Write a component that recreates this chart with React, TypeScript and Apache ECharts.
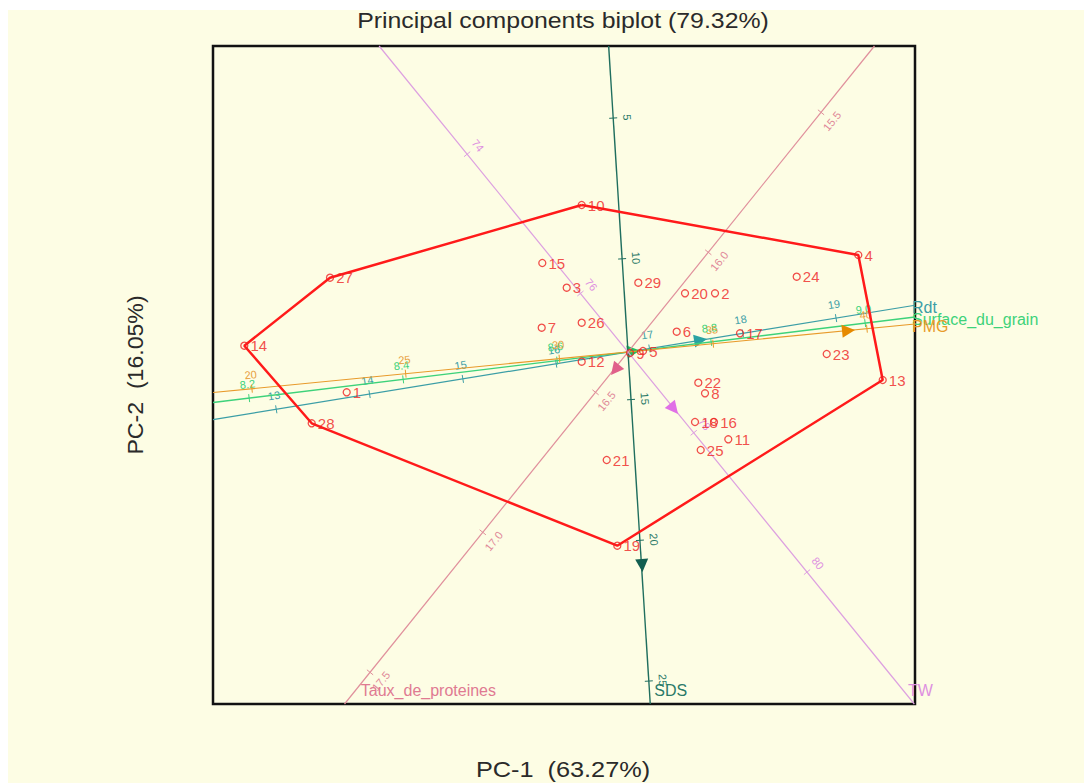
import React, { useEffect, useRef } from "react";
import * as echarts from "echarts";

// ---- genotype scores (PC-1, PC-2) ----
const genotypes = ["1","2","3","4","5","6","7","8","9","10","11","12","13","14","15","16","17","18","19","20","21","22","23","24","25","26","27","28","29"];
const pc1Scores = [-2.813, 0.87, -0.613, 2.303, 0.15, 0.487, -0.863, 0.77, 0.02, -0.463, 1.003, -0.463, 2.547, -3.837, -0.857, 0.86, 1.12, 0.67, -0.107, 0.57, -0.213, 0.703, 1.987, 1.687, 0.727, -0.463, -2.98, -3.163, 0.103];
const pc2Scores = [-0.403, 0.587, 0.643, 0.97, 0.01, 0.203, 0.243, -0.413, -0.01, 1.47, -0.873, -0.097, -0.28, 0.063, 0.89, -0.7, 0.187, -0.7, -1.937, 0.587, -1.08, -0.307, -0.02, 0.753, -0.98, 0.293, 0.743, -0.713, 0.693];
const hullGenotypes = ["10", "4", "13", "19", "28", "14", "27", "10"];

// ---- variables (biplot axes) ----
const variableNames = ["Rdt", "Surface_du_grain", "PMG", "SDS", "TW", "Taux_de_proteines"];
const variableTicks = [
  [13, 14, 15, 16, 17, 18, 19],
  [8.2, 8.4, 8.6, 8.8, 9.0],
  [20, 25, 30, 35, 40],
  [5, 10, 15, 20, 25],
  [74, 76, 78, 80],
  [15.5, 16.0, 16.5, 17.0, 17.5],
];
const variableDecimals = [0, 1, 0, 0, 0, 1];
// value of each variable at the biplot origin
const variableCentres = [16.77, 8.692, 32.23, 13.31, 76.84, 16.356];
// shift in (PC-1, PC-2) per unit of the variable
const variableSteps = [
  [0.933, 0.152],
  [7.7, 0.9375],
  [0.3075, 0.03],
  [0.0178, -0.2815],
  [0.5665, -0.6965],
  [-2.255, -2.8],
];
// vector ends (arrow tips) in (PC-1, PC-2)
const variableVectors = [
  [0.79, 0.13],
  [0.12, 0.015],
  [2.27, 0.22],
  [0.145, -2.2],
  [0.5, -0.62],
  [-0.17, -0.23],
];

const X_MIN = -4.15, X_MAX = 2.87, Y_MIN = -3.52, Y_MAX = 3.06;
const FONT = "'Liberation Sans', Arial, sans-serif";
const variableStyles = [
  { line: "#3b9ea6", tick: "#3b9ea6", arrow: "#2aa3a3", name: "#3b9ea6", width: 1.2 },
  { line: "#3dd27a", tick: "#3dd27a", arrow: "#22c060", name: "#3dd27a", width: 1.4 },
  { line: "#e89a2a", tick: "#e8a040", arrow: "#e68a00", name: "#e89a2a", width: 1.2 },
  { line: "#1f6e5e", tick: "#2a7a68", arrow: "#125e50", name: "#2a7a68", width: 1.4 },
  { line: "#dda0e0", tick: "#dd90e0", arrow: "#e070e6", name: "#dd90e0", width: 1.2 },
  { line: "#e0909c", tick: "#e08898", arrow: "#e0608a", name: "#e07a92", width: 1.2 },
];

export default function App() {
  const ref = useRef<HTMLDivElement>(null);
  useEffect(() => {
    document.documentElement.style.overflow = "hidden";
    const chart = echarts.init(ref.current!, null, { renderer: "svg" });

    const points = genotypes.map((g, i) => [pc1Scores[i], pc2Scores[i], g]);
    const hull = hullGenotypes.map((g) => {
      const i = genotypes.indexOf(g);
      return [pc1Scores[i], pc2Scores[i]];
    });

    const renderVariable = (params: any, api: any) => {
      const i = api.value(2) as number;
      const [sx, sy] = variableSteps[i];
      const c = variableCentres[i];
      const st = variableStyles[i];
      const len = Math.hypot(sx, sy);
      const dx = sx / len, dy = sy / len;
      let tmin = -Infinity, tmax = Infinity;
      const clipDim = (d: number, lo: number, hi: number) => {
        if (Math.abs(d) < 1e-9) return;
        const a = lo / d, b = hi / d;
        tmin = Math.max(tmin, Math.min(a, b));
        tmax = Math.min(tmax, Math.max(a, b));
      };
      clipDim(dx, X_MIN, X_MAX);
      clipDim(dy, Y_MIN, Y_MAX);
      const pA = api.coord([dx * tmin, dy * tmin]);
      const pB = api.coord([dx * tmax, dy * tmax]);
      const o = api.coord([0, 0]);
      const L = Math.hypot(pB[0] - o[0], pB[1] - o[1]);
      const ux = (pB[0] - o[0]) / L, uy = (pB[1] - o[1]) / L;
      const nx = uy, ny = -ux;
      let ang = Math.atan2(-uy, ux);
      if (ang > Math.PI / 2) ang -= Math.PI;
      if (ang < -Math.PI / 2) ang += Math.PI;
      const children: any[] = [];
      children.push({
        type: "line",
        shape: { x1: pA[0], y1: pA[1], x2: pB[0], y2: pB[1] },
        style: { stroke: st.line, lineWidth: st.width },
      });
      variableTicks[i].forEach((v) => {
        const p = api.coord([(v - c) * sx, (v - c) * sy]);
        children.push({
          type: "line",
          shape: { x1: p[0] - 4 * nx, y1: p[1] - 4 * ny, x2: p[0] + 4 * nx, y2: p[1] + 4 * ny },
          style: { stroke: st.line, lineWidth: 1 },
        });
        children.push({
          type: "text",
          x: p[0] + 14 * nx,
          y: p[1] + 14 * ny,
          rotation: ang,
          style: {
            text: v.toFixed(variableDecimals[i]),
            fill: st.tick,
            fontSize: 11,
            fontFamily: FONT,
            align: "center",
            verticalAlign: "middle",
          },
        });
      });
      const t = api.coord(variableVectors[i]);
      const bx = t[0] - 13 * ux, by = t[1] - 13 * uy;
      children.push({
        type: "polygon",
        shape: { points: [[t[0], t[1]], [bx + 6.5 * nx, by + 6.5 * ny], [bx - 6.5 * nx, by - 6.5 * ny]] },
        style: { fill: st.arrow },
      });
      const bottomPx = api.coord([0, Y_MIN])[1];
      let lx: number, ly: number;
      if (Math.abs(pB[1] - bottomPx) < 1.5) {
        const yy = bottomPx - 14;
        const tt = (yy - o[1]) / uy;
        lx = o[0] + tt * ux + 5;
        ly = yy;
      } else {
        lx = pB[0] - 3;
        ly = pB[1] + 2;
      }
      children.push({
        type: "text",
        x: lx,
        y: ly,
        style: {
          text: variableNames[i],
          fill: st.name,
          fontSize: 16,
          fontFamily: FONT,
          align: "left",
          verticalAlign: "middle",
        },
      });
      return { type: "group", children };
    };

    chart.setOption({
      animation: false,
      backgroundColor: "#fdfde4",
      grid: {
        left: 205,
        top: 36,
        width: 702,
        height: 658,
        show: true,
        borderColor: "#111111",
        borderWidth: 2.5,
        backgroundColor: "transparent",
      },
      xAxis: { type: "value", min: X_MIN, max: X_MAX, show: false },
      yAxis: { type: "value", min: Y_MIN, max: Y_MAX, show: false },
      graphic: [
        {
          type: "text",
          x: 555,
          y: 11,
          scaleX: 1.13,
          style: {
            text: "Principal components biplot (79.32%)",
            fontSize: 22,
            fill: "#2a2a2a",
            fontFamily: FONT,
            align: "center",
            verticalAlign: "middle",
          },
        },
        {
          type: "text",
          x: 555,
          y: 760,
          scaleX: 1.15,
          style: {
            text: "PC-1  (63.27%)",
            fontSize: 22,
            fill: "#2a2a2a",
            fontFamily: FONT,
            align: "center",
            verticalAlign: "middle",
          },
        },
        {
          type: "text",
          x: 128,
          y: 365,
          rotation: Math.PI / 2,
          scaleX: 1.05,
          style: {
            text: "PC-2  (16.05%)",
            fontSize: 22,
            fill: "#2a2a2a",
            fontFamily: FONT,
            align: "center",
            verticalAlign: "middle",
          },
        },
      ],
      series: [
        {
          type: "custom",
          coordinateSystem: "cartesian2d",
          silent: true,
          z: 1,
          encode: { x: 0, y: 1 },
          data: variableNames.map((_, i) => [0, 0, i]),
          renderItem: renderVariable,
        },
        {
          type: "line",
          data: hull,
          symbol: "none",
          silent: true,
          z: 2,
          lineStyle: { color: "#ff1a1a", width: 2.5 },
        },
        {
          type: "scatter",
          data: points,
          z: 3,
          silent: true,
          symbol: "circle",
          symbolSize: 7,
          itemStyle: { color: "rgba(0,0,0,0)", borderColor: "#ee2222", borderWidth: 1.3 },
          label: {
            show: true,
            position: "right",
            distance: 2,
            formatter: (p: any) => p.value[2],
            color: "#ee2222",
            fontSize: 15,
            fontFamily: FONT,
          },
        },
      ],
    });
    return () => chart.dispose();
  }, []);
  return <div ref={ref} style={{ position: "absolute", left: 8, top: 10, width: 1076, height: 773 }} />;
}
